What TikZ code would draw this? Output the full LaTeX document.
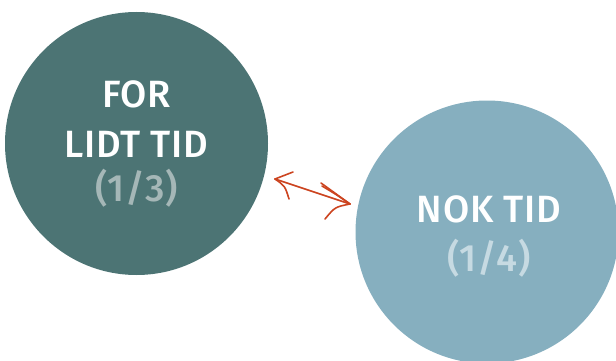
\documentclass[tikz,border=0pt]{standalone}
\usepackage{fontspec}
\setmainfont{Fira Sans Medium}[LetterSpace=2]
\definecolor{darkteal}{HTML}{4C7474}
\definecolor{lightteal}{HTML}{86AFBF}
\definecolor{graytxt}{HTML}{A5B7B7}
\definecolor{palebluetxt}{HTML}{C6DAE2}
\definecolor{arrowred}{HTML}{CC4420}
\tikzset{
  bubble/.style={circle, minimum size=263pt, inner sep=0pt},
  lbl/.style={anchor=base, font=\fontsize{38}{44}\selectfont, inner sep=0pt},
  sketch/.style={draw=arrowred, line width=1.6pt, line cap=round, line join=round}
}
\begin{document}
\begin{tikzpicture}[x=1pt,y=-1pt]
\useasboundingbox (0,0) rectangle (616,361);
\clip (0,0) rectangle (616,361);
\node[bubble, fill=darkteal] (left) at (136.5,143.5) {};
\node[bubble, fill=lightteal] (right) at (487,232) {};
\node[lbl, text=white] (l1) at (136.5,107) {FOR};
\node[lbl, text=white] (l2) at (136.5,157) {LIDT TID};
\node[lbl, text=graytxt] (l3) at (136.5,201) {(1/3)};
\node[lbl, text=white] (r1) at (489,222) {NOK TID};
\node[lbl, text=palebluetxt] (r2) at (489,271) {(1/4)};
\coordinate (aL) at (275,179);
\coordinate (aR) at (350,204);
\draw[sketch] (aL) -- (aR);
\draw[sketch] (aL) -- (293,172);
\draw[sketch] (aL) .. controls (285,186) .. (289,199);
\draw[sketch] (321,183) .. controls (336,193) .. (aR);
\draw[sketch] (322,186) .. controls (337,195) .. (aR);
\draw[sketch] (325,219) .. controls (335,207) .. (aR);
\end{tikzpicture}
\end{document}
